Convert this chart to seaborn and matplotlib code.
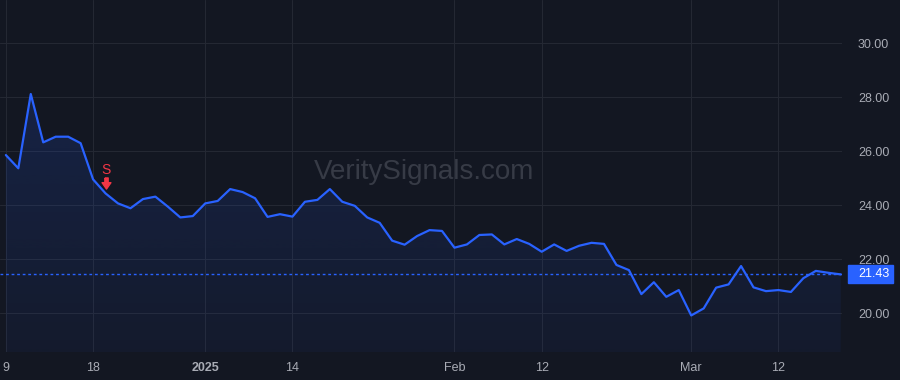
import numpy as np
import pandas as pd
import seaborn as sns
import matplotlib
matplotlib.use("Agg")
import matplotlib.pyplot as plt
from matplotlib import transforms
from matplotlib.patches import Rectangle
from matplotlib.colors import LinearSegmentedColormap, to_rgba

# ---------------- data ----------------
dates = [
    "2024-12-09", "2024-12-10", "2024-12-11", "2024-12-12", "2024-12-13", "2024-12-16",
    "2024-12-17", "2024-12-18", "2024-12-19", "2024-12-20", "2024-12-23", "2024-12-24",
    "2024-12-26", "2024-12-27", "2024-12-30", "2024-12-31",
    "2025-01-02", "2025-01-03", "2025-01-06", "2025-01-07", "2025-01-08", "2025-01-10",
    "2025-01-13", "2025-01-14", "2025-01-15", "2025-01-16", "2025-01-17", "2025-01-21",
    "2025-01-22", "2025-01-23", "2025-01-24", "2025-01-27", "2025-01-28", "2025-01-29",
    "2025-01-30", "2025-01-31",
    "2025-02-03", "2025-02-04", "2025-02-05", "2025-02-06", "2025-02-07", "2025-02-10",
    "2025-02-11", "2025-02-12", "2025-02-13", "2025-02-14", "2025-02-18", "2025-02-19",
    "2025-02-20", "2025-02-21", "2025-02-24", "2025-02-25", "2025-02-26", "2025-02-27",
    "2025-02-28",
    "2025-03-03", "2025-03-04", "2025-03-05", "2025-03-06", "2025-03-07", "2025-03-10",
    "2025-03-11", "2025-03-12", "2025-03-13", "2025-03-14", "2025-03-17", "2025-03-18",
    "2025-03-19",
]
closes = [
    25.85, 25.36, 28.11, 26.32, 26.53, 26.53, 26.29, 24.95, 24.43, 24.06,
    23.88, 24.22, 24.31, 23.94, 23.54, 23.59, 24.06, 24.15, 24.59, 24.48,
    24.25, 23.56, 23.66, 23.57, 24.12, 24.19, 24.59, 24.12, 23.97, 23.54,
    23.34, 22.68, 22.53, 22.85, 23.07, 23.04, 22.42, 22.54, 22.89, 22.91,
    22.54, 22.74, 22.56, 22.27, 22.54, 22.30, 22.49, 22.60, 22.56, 21.78,
    21.59, 20.70, 21.14, 20.60, 20.85, 19.91, 20.17, 20.94, 21.06, 21.74,
    20.95, 20.81, 20.85, 20.78, 21.29, 21.56, 21.49, 21.43,
]
tick_dates = ["2024-12-09", "2024-12-18", "2025-01-02", "2025-01-14",
              "2025-02-03", "2025-02-12", "2025-03-03", "2025-03-12"]
tick_labels = ["9", "18", "2025", "14", "Feb", "12", "Mar", "12"]
y_ticks = [20, 22, 24, 26, 28, 30]
signal_dates = ["2024-12-19"]
signal_labels = ["S"]
last_price = closes[-1]
watermark = "VeritySignals.com"

# ---------------- style ----------------
BG = "#131722"
GRID = "#242833"
LINE = "#2962ff"
TXT = "#a9acb5"
RED = "#f23645"

sns.set_theme(style="dark", rc={
    "axes.facecolor": BG, "figure.facecolor": BG, "axes.edgecolor": BG,
    "grid.color": GRID, "xtick.color": TXT, "ytick.color": TXT, "text.color": TXT,
})
plt.rcParams["font.family"] = ["Liberation Sans", "DejaVu Sans"]

df = pd.DataFrame({"date": dates, "close": closes})
df["i"] = np.arange(len(df))

fig = plt.figure(figsize=(9, 3.8), dpi=100)
ax = fig.add_axes([0, 28 / 380, 842 / 900, 352 / 380])

YMIN, YMAX = 18.556, 31.593
XMIN, XMAX = -0.47, 67.1

sns.lineplot(data=df, x="i", y="close", color=LINE, linewidth=1.6, ax=ax, zorder=4)

# gradient area fill
fill = ax.fill_between(df["i"], df["close"], YMIN, color="none", linewidth=0)
cmap = LinearSegmentedColormap.from_list(
    "area", [to_rgba(LINE, 0.05), to_rgba(LINE, 0.16)])
grad = np.linspace(0, 1, 256).reshape(-1, 1)
im = ax.imshow(grad, extent=[XMIN, XMAX, YMIN, max(closes)], origin="lower",
               aspect="auto", cmap=cmap, zorder=2)
im.set_clip_path(fill.get_paths()[0], transform=ax.transData)

# last price dotted line
ax.axhline(last_price, color=LINE, linewidth=1.0, linestyle=(0, (2, 2)), zorder=3)

# watermark
ax.text(0.504, 0.511, watermark, transform=ax.transAxes, ha="center", va="center",
        fontsize=20, color="#373b46", zorder=1)

# signals
arrow = [(-0.3, 1.0), (0.3, 1.0), (0.3, 0.15), (0.8, 0.15), (0.0, -1.0),
         (-0.8, 0.15), (-0.3, 0.15), (-0.3, 1.0)]
for d, lab in zip(signal_dates, signal_labels):
    k = dates.index(d)
    ax.annotate(lab, xy=(k, closes[k]), xytext=(0, 23), textcoords="offset pixels",
                ha="center", va="center", color=RED, fontsize=10, zorder=6)
    tr = transforms.offset_copy(ax.transData, fig=fig, x=0, y=10, units="dots")
    ax.plot([k], [closes[k]], marker=arrow, markersize=8, color=RED,
            linestyle="none", transform=tr, zorder=6)

# axes
ax.set_xlim(XMIN, XMAX)
ax.set_ylim(YMIN, YMAX)
ax.set_xticks([dates.index(d) for d in tick_dates])
ax.set_xticklabels(tick_labels)
for lbl in ax.get_xticklabels():
    if lbl.get_text() == "2025":
        lbl.set_fontweight("bold")
ax.yaxis.tick_right()
ax.set_yticks(y_ticks)
ax.set_yticklabels([f"{v:.2f}" for v in y_ticks])
ax.tick_params(axis="y", length=0, pad=11.5, labelsize=9, colors=TXT)
ax.tick_params(axis="x", length=0, pad=7, labelsize=9, colors=TXT)
ax.set_xlabel("")
ax.set_ylabel("")
ax.grid(True, color=GRID, linewidth=0.8)
for s in ax.spines.values():
    s.set_visible(False)

# last price label box on the price scale
blend = transforms.blended_transform_factory(fig.transFigure, ax.transData)
fig.add_artist(Rectangle((848 / 900, last_price - 0.333), 45 / 900, 0.667,
                         transform=blend, color=LINE, clip_on=False))
fig.text(858 / 900, last_price, f"{last_price:.2f}", transform=blend,
         ha="left", va="center", color="white", fontsize=9)

fig.savefig("out.png", dpi=100, facecolor=BG)
